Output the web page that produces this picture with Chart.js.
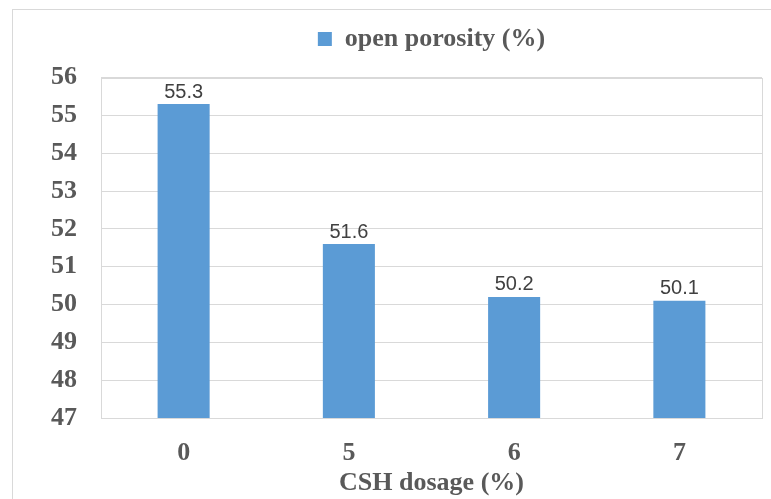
<!DOCTYPE html>
<html>
<head>
<meta charset="utf-8">
<script src="https://cdn.jsdelivr.net/npm/chart.js@4.4.0/dist/chart.umd.min.js"></script>
<style>
  html, body { margin: 0; padding: 0; background: #fff; }
  #wrap { width: 771px; height: 499px; }
</style>
</head>
<body>
<div id="wrap"><canvas id="chart" width="771" height="499"></canvas></div>
<script>
// values
const dosages = ['0', '5', '6', '7'];
const porosity = [55.3, 51.6, 50.2, 50.1];
const seriesName = 'open porosity (%)';
const xTitle = 'CSH dosage (%)';

const serif = "'Liberation Serif', 'Times New Roman', serif";
const grey = '#595959';
const lineGrey = '#d9d9d9';

// outer frame + plot frame
const frames = {
    id: 'frames',
    beforeDraw(chart) {
        const ctx = chart.ctx;
        ctx.save();
        ctx.strokeStyle = lineGrey;
        ctx.lineWidth = 1;
        ctx.strokeRect(12.5, 9.5, 800, 600);
        ctx.restore();
    },
    beforeDatasetsDraw(chart) {
        const a = chart.chartArea;
        const ctx = chart.ctx;
        ctx.save();
        ctx.strokeStyle = lineGrey;
        ctx.lineWidth = 1;
        ctx.strokeRect(Math.round(a.left) + 0.5, Math.round(a.top) + 0.5,
            Math.round(a.right - a.left), Math.round(a.bottom - a.top));
        ctx.restore();
    }
};

// value labels above the bars
const barLabels = {
    id: 'barLabels',
    afterDatasetsDraw(chart) {
        const ctx = chart.ctx;
        const meta = chart.getDatasetMeta(0);
        ctx.save();
        ctx.font = "20px 'Liberation Sans', Arial, sans-serif";
        ctx.fillStyle = '#404040';
        ctx.textAlign = 'center';
        ctx.textBaseline = 'bottom';
        meta.data.forEach((bar, i) => {
            ctx.fillText(porosity[i].toFixed(1), bar.x, bar.y - 2);
        });
        ctx.restore();
    }
};

const ctx = document.getElementById('chart').getContext('2d');
new Chart(ctx, {
    type: 'bar',
    data: {
        labels: dosages,
        datasets: [{
            label: seriesName,
            data: porosity,
            backgroundColor: '#5b9bd5',
            borderWidth: 0,
            categoryPercentage: 1,
            barPercentage: 0.315
        }]
    },
    options: {
        responsive: false,
        animation: false,
        layout: { padding: { left: 0, right: 9, top: 3, bottom: 0 } },
        plugins: {
            tooltip: { enabled: false },
            legend: {
                position: 'top',
                fullSize: false,
                labels: {
                    boxWidth: 14,
                    boxHeight: 14,
                    padding: 23,
                    color: grey,
                    font: { family: serif, size: 26, weight: 'bold' }
                }
            },
            // empty spacer between legend and plot
            subtitle: {
                display: true,
                text: '',
                position: 'top',
                fullSize: false,
                weight: 500,
                padding: 0,
                font: { size: 13 }
            }
        },
        scales: {
            x: {
                grid: { display: false },
                border: { color: lineGrey },
                ticks: {
                    color: grey,
                    padding: 12,
                    font: { family: serif, size: 26, weight: 'bold' }
                },
                title: {
                    display: true,
                    text: xTitle,
                    color: grey,
                    padding: { top: 0, bottom: 0 },
                    font: { family: serif, size: 26, weight: 'bold' }
                },
                afterFit(scale) { scale.height = 81; }
            },
            y: {
                min: 47,
                max: 56,
                grid: { color: lineGrey, drawTicks: false },
                border: { color: lineGrey },
                ticks: {
                    stepSize: 1,
                    color: grey,
                    padding: 24,
                    font: { family: serif, size: 26, weight: 'bold' }
                },
                afterFit(scale) { scale.width = 101; }
            }
        }
    },
    plugins: [frames, barLabels]
});
</script>
</body>
</html>
